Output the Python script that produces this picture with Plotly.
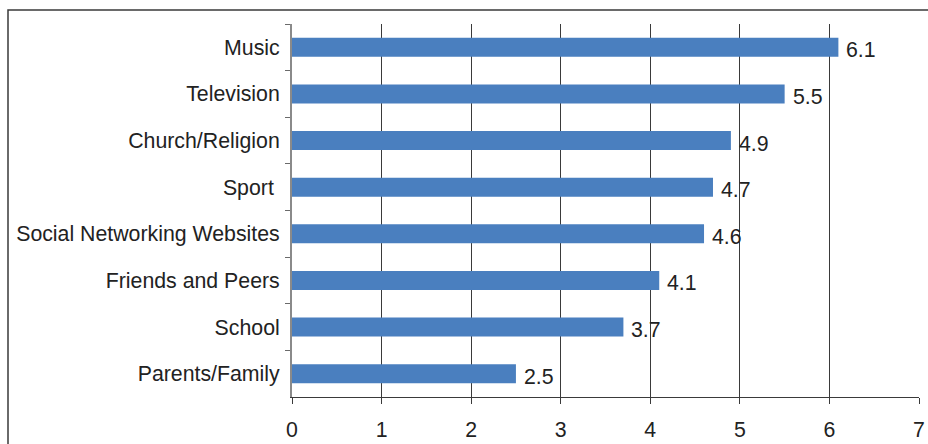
import plotly.graph_objects as go

# Influence sources, listed top to bottom, with their mean scores
categories = [
    "Music",
    "Television",
    "Church/Religion",
    "Sport ",
    "Social Networking Websites",
    "Friends and Peers",
    "School",
    "Parents/Family",
]
scores = [6.1, 5.5, 4.9, 4.7, 4.6, 4.1, 3.7, 2.5]
x_ticks = [0, 1, 2, 3, 4, 5, 6, 7]

FONT = "Liberation Sans, Arial, sans-serif"
TEXT = "#222222"
FS = 21.3

fig = go.Figure(
    go.Bar(
        x=scores,
        y=categories,
        orientation="h",
        marker=dict(color="#4A7FBF", line=dict(width=0)),
        hoverinfo="skip",
    )
)

# value labels just right of each bar end
for cat, val in zip(categories, scores):
    fig.add_annotation(
        x=val, y=cat, xref="x", yref="y",
        text=f"{val:.1f}",
        showarrow=False,
        xanchor="left", yanchor="middle",
        xshift=6, yshift=-3,
        font=dict(family=FONT, size=FS, color=TEXT),
    )

W, H = 928, 444
ML, MR, MT, MB = 292, 9, 24, 47
pw, ph = W - ML - MR, H - MT - MB


def px_x(p):
    return (p - ML) / pw


def px_y(p):
    return (H - MB - p) / ph


# outer frame around the whole chart
fig.add_shape(
    type="rect",
    xref="paper", yref="paper",
    x0=px_x(8), x1=px_x(940), y0=px_y(460), y1=px_y(10),
    line=dict(color="#3a3a3a", width=1.5),
    fillcolor="rgba(0,0,0,0)",
    layer="above",
)

fig.update_layout(
    width=W,
    height=H,
    margin=dict(l=ML, r=MR, t=MT, b=MB, pad=0, autoexpand=False),
    paper_bgcolor="white",
    plot_bgcolor="white",
    showlegend=False,
    bargap=0.59,
    font=dict(family=FONT, size=FS, color=TEXT),
    xaxis=dict(
        range=[0, 7],
        tickvals=x_ticks,
        ticktext=[str(t) for t in x_ticks],
        automargin=False,
        showgrid=True,
        gridcolor="#3a3a3a",
        gridwidth=1,
        zeroline=False,
        showline=True,
        linecolor="#3a3a3a",
        linewidth=1,
        ticks="outside",
        ticklen=6,
        tickcolor="#3a3a3a",
        ticklabelstandoff=7,
        tickfont=dict(family=FONT, size=FS, color=TEXT),
    ),
    yaxis=dict(
        autorange="reversed",
        automargin=False,
        showgrid=False,
        showline=True,
        linecolor="#8a8a8a",
        linewidth=2,
        ticks="outside",
        tickson="boundaries",
        ticklen=5,
        tickcolor="#6a6a6a",
        ticklabelstandoff=6,
        tickfont=dict(family=FONT, size=FS, color=TEXT),
    ),
)

fig.write_html("out.html")
